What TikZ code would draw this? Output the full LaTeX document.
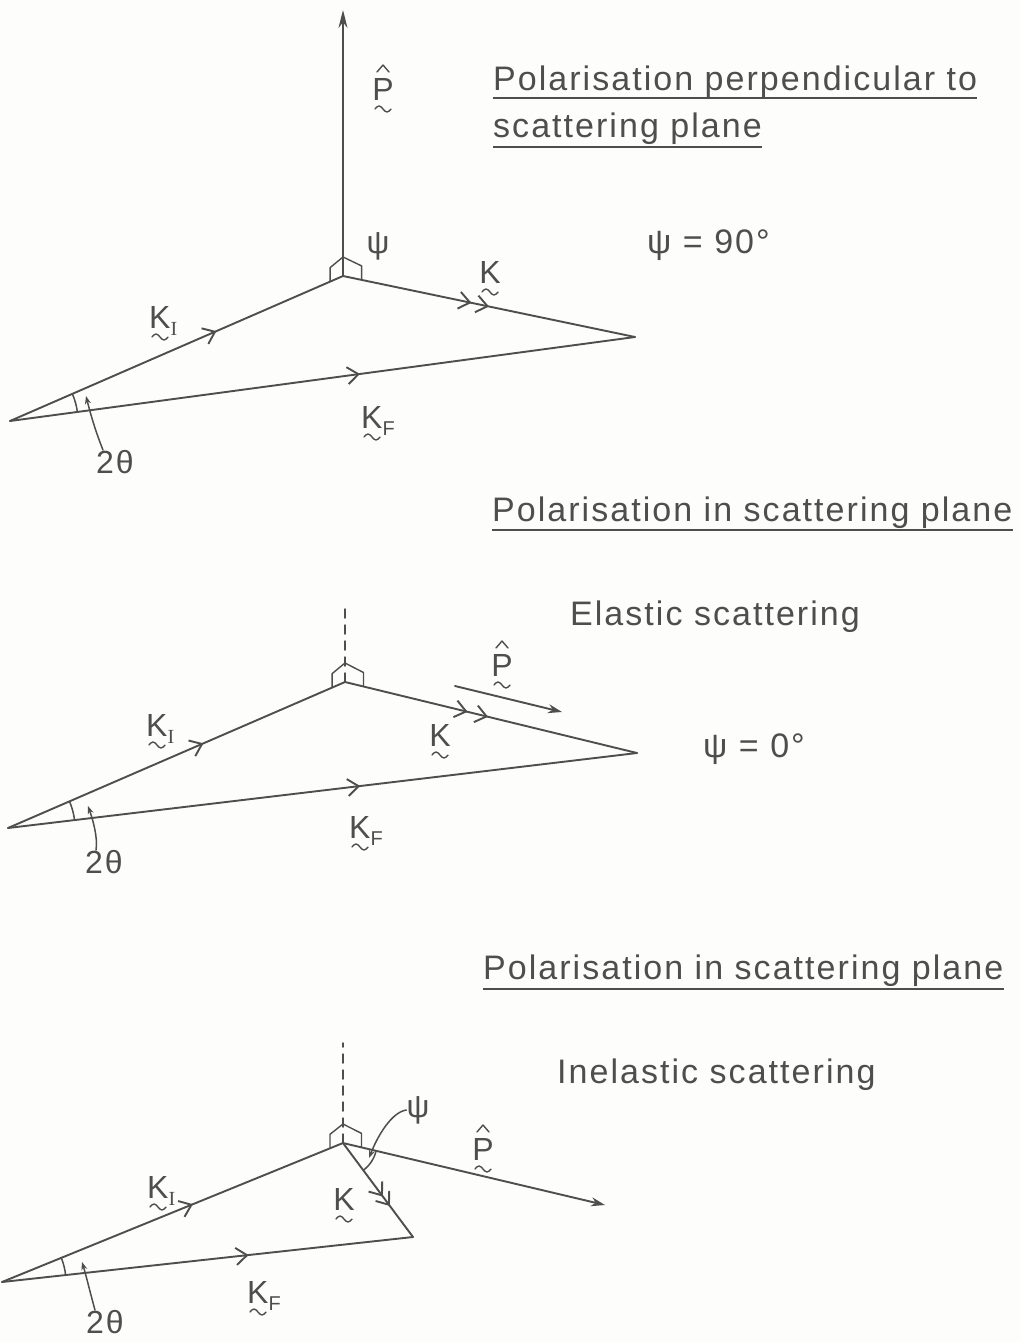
\documentclass[tikz,border=0pt]{standalone}
\usepackage{fontspec}
\setmainfont{Liberation Sans}[LetterSpace=6]
\newfontfamily\serifI{Liberation Serif}
\usetikzlibrary{arrows.meta,decorations.markings,calc,angles}
\definecolor{ink}{RGB}{78,78,78}
\definecolor{paper}{RGB}{253,253,251}
% tilde drawn under a letter: #1 anchor, #2 x offset of the letter centre
\newcommand{\tildeunder}[2]{\draw[tld] ($(#1)+({#2-8},-9)$) sin ++(4,3) cos ++(4,-3) sin ++(4,-3) cos ++(4,3);}
\newcommand{\hatover}[1]{\draw[tld] ($(#1)+(-6,28)$) -- ++(6,7) -- ++(6,-7);}
\newcommand{\rmark}[3]{\draw[tld] ($(#1)!14pt!(#2)$) -- ($(#1)!14pt!(#2)+(0,14)$) -- ($(#1)+(0,19)$) -- ($(#1)!19pt!(#3)+(0,14)$) -- ($(#1)!19pt!(#3)$);}
\begin{document}
\begin{tikzpicture}[x=1pt,y=1pt,
  vec/.style={draw=ink, line width=1.9pt, line cap=round, line join=round},
  thin/.style={draw=ink, line width=1.5pt, line cap=round, line join=round},
  tld/.style={draw=ink, line width=1.4pt, line cap=round, line join=round},
  chev/.style={postaction={decorate, decoration={markings, mark=at position #1 with {\arrow[ink, line width=1.9pt]{Straight Barb[length=11pt,width=17pt]}}}}},
  lbl/.style={text=ink, font=\fontsize{32}{34}\selectfont, inner sep=0pt},
  lblb/.style={lbl, anchor=base},
  lblw/.style={lbl, anchor=base west},
  ttl/.style={text=ink, font=\fontsize{34}{40}\selectfont, inner sep=0pt, anchor=base west},
  uline/.style={draw=ink, line width=2.2pt},
  ptr/.style={thin, -{Stealth[length=8pt,width=6pt]}}
]
\fill[paper] (0,0) rectangle (1020,-1342);
\useasboundingbox (0,0) rectangle (1020,-1342);

% ---------------- Diagram 1 ----------------
\coordinate (L1) at (10,-421);
\coordinate (T1) at (343,-276);
\coordinate (R1) at (635,-337);
\coordinate (P1) at (343,-10);
\draw[vec, -{Stealth[length=18pt,width=9pt]}] (T1) -- (P1);
\draw[vec, chev=0.62] (L1) -- (T1);
\draw[vec, chev=0.44, chev=0.5] (T1) -- (R1);
\draw[vec, chev=0.56] (L1) -- (R1);
\rmark{T1}{L1}{R1}
\pic[draw=ink, line width=1.5pt, angle radius=68pt] {angle=R1--L1--T1};
\node[lblb] (p1) at (383,-100) {P};
\hatover{p1.base}
\tildeunder{p1.base}{0}
\node[lbl] (psi1) at (378,-246) {ψ};
\node[lblw] (ki1) at (149,-328) {K\raisebox{-0.22em}{\fontsize{20}{21}\selectfont\serifI I}};
\tildeunder{ki1.base west}{11}
\node[lblb] (k1) at (490,-283) {K};
\tildeunder{k1.base}{0}
\node[lblw] (kf1) at (361,-428) {K\raisebox{-0.22em}{\fontsize{20}{21}\selectfont F}};
\tildeunder{kf1.base west}{11}
\node[lbl] (th1) at (115,-462) {2θ};
\coordinate (a1) at (86,-396);
\draw[ptr] ([xshift=-12pt]th1.north) .. controls (95,-430) and (90,-412) .. (a1);
\node[ttl] (t1a) at (493,-90) {Polarisation perpendicular to};
\node[ttl] (t1b) at (493,-137) {scattering plane};
\draw[uline] ([yshift=-8pt]t1a.base west) -- ([yshift=-8pt]t1a.base east);
\draw[uline] ([yshift=-10pt]t1b.base west) -- ([yshift=-10pt]t1b.base east);
\node[ttl] (psi90) at (647,-253) {ψ = 90°};

% ---------------- Diagram 2 ----------------
\coordinate (L2) at (8,-828);
\coordinate (T2) at (345,-682);
\coordinate (R2) at (637,-753);
\coordinate (D2) at (345,-606);
\draw[thin, dash pattern=on 9pt off 7pt] (T2) -- (D2);
\draw[vec, chev=0.58] (L2) -- (T2);
\draw[vec, chev=0.42, chev=0.49] (T2) -- (R2);
\draw[vec, chev=0.56] (L2) -- (R2);
\rmark{T2}{L2}{R2}
\pic[draw=ink, line width=1.5pt, angle radius=67pt] {angle=R2--L2--T2};
\coordinate (P2a) at (455,-686);
\coordinate (P2b) at (562,-712);
\draw[vec, -{Stealth[length=14pt,width=9pt]}] (P2a) -- (P2b);
\node[lblb] (p2) at (502,-676) {P};
\hatover{p2.base}
\tildeunder{p2.base}{0}
\node[lblb] (k2) at (440,-746) {K};
\tildeunder{k2.base}{0}
\node[lblw] (ki2) at (146,-736) {K\raisebox{-0.22em}{\fontsize{20}{21}\selectfont\serifI I}};
\tildeunder{ki2.base west}{11}
\node[lblw] (kf2) at (349,-838) {K\raisebox{-0.22em}{\fontsize{20}{21}\selectfont F}};
\tildeunder{kf2.base west}{11}
\node[lbl] (th2) at (104,-862) {2θ};
\coordinate (a2) at (88,-806);
\draw[ptr] ([xshift=-8pt]th2.north) .. controls (98,-838) and (93,-820) .. (a2);
\node[ttl] (t2) at (492,-521) {Polarisation in scattering plane};
\draw[uline] ([yshift=-9pt]t2.base west) -- ([yshift=-9pt]t2.base east);
\node[ttl] (el) at (570,-625) {Elastic scattering};
\node[ttl] (psi0) at (703,-757) {ψ = 0°};

% ---------------- Diagram 3 ----------------
\coordinate (L3) at (2,-1282);
\coordinate (T3) at (343,-1143);
\coordinate (R3) at (413,-1237);
\coordinate (P3) at (605,-1205);
\coordinate (D3) at (343,-1043);
\draw[thin, dash pattern=on 9pt off 7pt] (T3) -- (D3);
\draw[vec, chev=0.56] (L3) -- (T3);
\draw[vec, chev=0.57, chev=0.67] (T3) -- (R3);
\draw[vec, chev=0.6] (L3) -- (R3);
\draw[vec, -{Stealth[length=14pt,width=9pt]}] (T3) -- (P3);
\rmark{T3}{L3}{P3}
\pic[draw=ink, line width=1.5pt, angle radius=64pt] {angle=R3--L3--T3};
\pic[draw=ink, line width=1.5pt, angle radius=34pt] {angle=R3--T3--P3};
\node[lblb] (p3) at (483,-1160) {P};
\hatover{p3.base}
\tildeunder{p3.base}{0}
\node[lblb] (k3) at (344,-1210) {K};
\tildeunder{k3.base}{0}
\node[lblw] (ki3) at (147,-1198) {K\raisebox{-0.22em}{\fontsize{20}{21}\selectfont\serifI I}};
\tildeunder{ki3.base west}{11}
\node[lblw] (kf3) at (247,-1303) {K\raisebox{-0.22em}{\fontsize{20}{21}\selectfont F}};
\tildeunder{kf3.base west}{11}
\node[lbl] (psi3) at (418,-1110) {ψ};
\coordinate (b3) at (369,-1158);
\draw[ptr] (psi3.west) .. controls (392,-1112) and (378,-1135) .. (b3);
\node[lbl] (th3) at (105,-1322) {2θ};
\coordinate (a3) at (82,-1262);
\draw[ptr] ([xshift=-10pt]th3.north) .. controls (90,-1292) and (86,-1275) .. (a3);
\node[ttl] (t3) at (483,-979) {Polarisation in scattering plane};
\draw[uline] ([yshift=-10pt]t3.base west) -- ([yshift=-10pt]t3.base east);
\node[ttl] (inel) at (557,-1083) {Inelastic scattering};
\end{tikzpicture}
\end{document}
